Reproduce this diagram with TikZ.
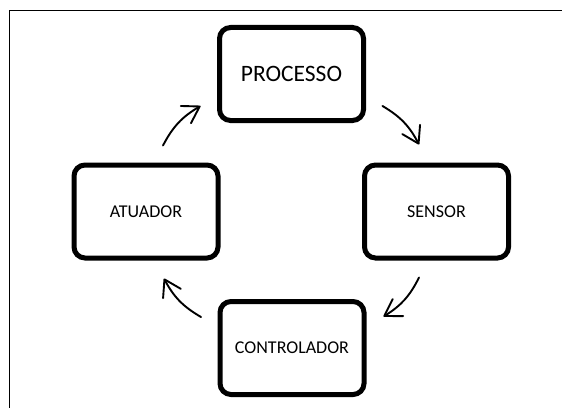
\documentclass[tikz,border=0pt]{standalone}
\usepackage{fontspec}
\setmainfont{Carlito}
\usetikzlibrary{arrows.meta,calc}
\begin{document}
\begin{tikzpicture}[x=1pt,y=1pt,
  stage/.style={draw=black,line width=5pt,rounded corners=11pt,
    minimum width=144pt,minimum height=93pt,inner sep=0pt,
    font=\fontsize{18pt}{20pt}\selectfont},
  cycle/.style={line width=1.9pt,line cap=round,
    -{Straight Barb[length=16pt,width=20pt,line width=1.9pt,round]},
    bend left=16}]
  \useasboundingbox (0,0) rectangle (562,408);
  % frame: top and left edges only
  \draw[line width=1.6pt] (562,397.5) -- (9.5,397.5) -- (9.5,0);
  % the four stages of the loop
  \node[stage,font=\fontsize{23.5pt}{26pt}\selectfont] (pro) at (291.5,334) {PROCESSO};
  \node[stage] (sen) at (436.5,196.5) {SENSOR};
  \node[stage] (con) at (292,60) {CONTROLADOR};
  \node[stage] (atu) at (146,196.5) {ATUADOR};
  % clockwise arrows between the stages
  \draw[cycle] ($(atu.north)+(17,17)$) to ($(pro.west)+(-16.5,-32)$);
  \draw[cycle] ($(pro.east)+(16.5,-32)$) to ($(sen.north)+(-17.5,18)$);
  \draw[cycle] ($(sen.south)+(-17.5,-17)$) to ($(con.east)+(17,31.5)$);
  \draw[cycle] ($(con.west)+(-16.5,31)$) to ($(atu.south)+(18,-18)$);
\end{tikzpicture}
\end{document}
